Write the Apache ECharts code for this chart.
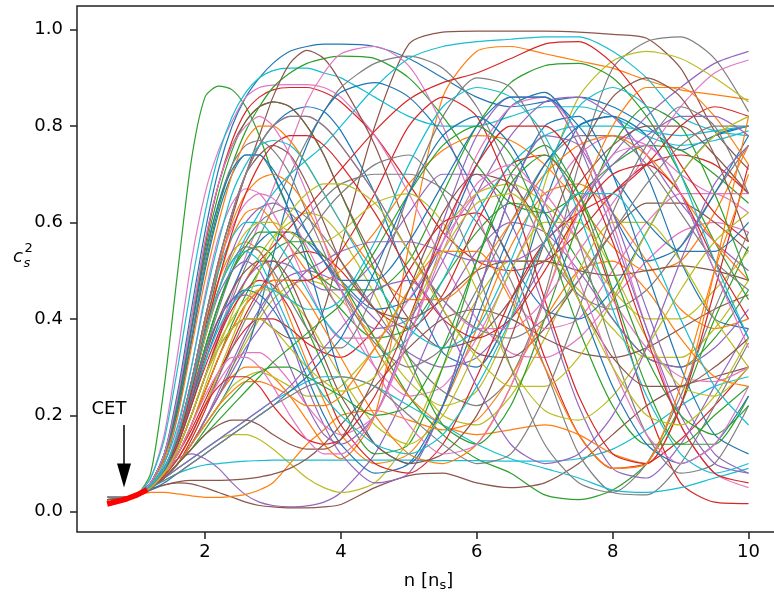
<!DOCTYPE html>
<html><head><meta charset="utf-8">
<script src="https://cdn.jsdelivr.net/npm/echarts@6/dist/echarts.min.js"></script>
<style>html,body{margin:0;padding:0;background:#fff}#c{width:774px;height:595px}</style>
</head><body><div id="c"></div><script>
// x positions (density n in units of n_s)
const xs = [0.56,0.8,1.0,1.2, 1.4,1.6,1.8,2.0, 2.2,2.4,2.6,2.8,3.0, 3.25,3.5,3.75,4.0, 4.5,5.0,5.5,6.0, 6.5,7.0,7.5,8.0, 8.5,9.0,9.5,10.0];

const blue1=[0.02,0.025,0.035,0.06, 0.12,0.25,0.42,0.58, 0.71,0.80,0.86,0.90,0.93, 0.955,0.965,0.97,0.97, 0.965,0.94,0.90,0.86, 0.84,0.85,0.86,0.84, 0.80,0.75,0.78,0.80];
const orange1=[0.02,0.025,0.033,0.05, 0.07,0.10,0.14,0.19, 0.24,0.28,0.30,0.30,0.28, 0.24,0.19,0.14,0.11, 0.20,0.55,0.86,0.955, 0.965,0.95,0.935,0.92, 0.895,0.875,0.865,0.855];
const green1=[0.02,0.025,0.035,0.08, 0.26,0.50,0.73,0.86, 0.883,0.875,0.84,0.78,0.70, 0.62,0.54,0.47,0.42, 0.36,0.38,0.48,0.58, 0.64,0.62,0.52,0.40, 0.32,0.30,0.36,0.46];
const red1=[0.02,0.025,0.035,0.06, 0.11,0.22,0.38,0.55, 0.68,0.77,0.83,0.86,0.875, 0.88,0.88,0.87,0.85, 0.78,0.68,0.58,0.52, 0.50,0.52,0.58,0.66, 0.72,0.74,0.72,0.66];
const purple1=[0.02,0.025,0.033,0.05, 0.07,0.10,0.14,0.19, 0.25,0.31,0.37,0.42,0.46, 0.49,0.50,0.49,0.47, 0.40,0.33,0.30,0.32, 0.40,0.52,0.64,0.74, 0.82,0.88,0.93,0.955];
const brown1=[0.025,0.028,0.035,0.05, 0.08,0.13,0.20,0.28, 0.34,0.38,0.40,0.40,0.38, 0.36,0.36,0.42,0.55, 0.80,0.97,0.995,0.997, 0.997,0.997,0.995,0.99, 0.982,0.92,0.79,0.71];
const pink1=[0.02,0.025,0.035,0.07, 0.16,0.33,0.52,0.66, 0.75,0.81,0.86,0.88,0.885, 0.886,0.886,0.88,0.86, 0.78,0.66,0.52,0.40, 0.33,0.32,0.36,0.44, 0.52,0.58,0.60,0.58];
const gray1=[0.03,0.03,0.035,0.05, 0.08,0.14,0.23,0.33, 0.42,0.50,0.56,0.60,0.62, 0.63,0.61,0.57,0.52, 0.42,0.32,0.25,0.22, 0.28,0.45,0.72,0.92, 0.975,0.985,0.94,0.83];
const olive1=[0.02,0.025,0.033,0.05, 0.07,0.10,0.14,0.19, 0.24,0.30,0.35,0.40,0.44, 0.47,0.48,0.47,0.44, 0.36,0.27,0.22,0.25, 0.40,0.68,0.86,0.935, 0.955,0.94,0.90,0.85];
const cyan1=[0.02,0.025,0.035,0.07, 0.15,0.30,0.47,0.62, 0.74,0.82,0.87,0.90,0.915, 0.92,0.92,0.91,0.90, 0.86,0.82,0.80,0.80, 0.82,0.84,0.84,0.82, 0.78,0.76,0.77,0.79];

const blue2=[0.02,0.025,0.034,0.055, 0.09,0.16,0.27,0.40, 0.52,0.62,0.70,0.76,0.80, 0.83,0.84,0.83,0.79, 0.66,0.48,0.33,0.30, 0.42,0.64,0.80,0.82, 0.70,0.52,0.40,0.38];
const orange2=[0.02,0.025,0.034,0.055, 0.09,0.16,0.27,0.39, 0.48,0.54,0.56,0.54,0.49, 0.40,0.31,0.23,0.16, 0.10,0.12,0.22,0.38, 0.55,0.66,0.68,0.62, 0.52,0.42,0.38,0.40];
const green2=[0.02,0.025,0.034,0.06, 0.11,0.22,0.36,0.51, 0.63,0.72,0.79,0.84,0.88, 0.91,0.93,0.94,0.945, 0.94,0.90,0.82,0.72, 0.64,0.62,0.66,0.72, 0.76,0.75,0.70,0.64];
const red2=[0.02,0.025,0.033,0.05, 0.07,0.10,0.15,0.21, 0.28,0.35,0.41,0.46,0.50, 0.53,0.54,0.53,0.50, 0.42,0.38,0.45,0.60, 0.72,0.74,0.64,0.45, 0.22,0.06,0.02,0.017];
const purple2=[0.02,0.025,0.033,0.05, 0.08,0.11,0.12,0.11, 0.09,0.06,0.035,0.02,0.013, 0.01,0.012,0.02,0.04, 0.12,0.26,0.42,0.54, 0.60,0.58,0.50,0.40, 0.32,0.30,0.34,0.42];
const brown2=[0.025,0.028,0.035,0.055, 0.09,0.16,0.26,0.38, 0.50,0.61,0.70,0.78,0.86, 0.93,0.957,0.94,0.89, 0.76,0.58,0.42,0.33, 0.32,0.38,0.48,0.58, 0.64,0.64,0.60,0.54];
const pink2=[0.02,0.025,0.033,0.05, 0.08,0.13,0.20,0.28, 0.37,0.45,0.53,0.60,0.67, 0.76,0.85,0.91,0.95, 0.965,0.925,0.80,0.62, 0.45,0.38,0.40,0.50, 0.60,0.66,0.66,0.62];
const gray2=[0.03,0.03,0.035,0.05, 0.08,0.13,0.20,0.28, 0.36,0.44,0.51,0.57,0.63, 0.70,0.77,0.83,0.88, 0.93,0.945,0.92,0.84, 0.70,0.55,0.45,0.42, 0.46,0.55,0.66,0.76];
const olive2=[0.02,0.025,0.033,0.05, 0.08,0.12,0.18,0.26, 0.34,0.41,0.48,0.53,0.57, 0.60,0.62,0.61,0.57, 0.45,0.30,0.20,0.18, 0.24,0.36,0.50,0.60, 0.60,0.52,0.40,0.30];
const cyan2=[0.02,0.025,0.034,0.055, 0.09,0.15,0.24,0.34, 0.43,0.51,0.57,0.62,0.66, 0.70,0.73,0.76,0.80, 0.88,0.94,0.965,0.975, 0.98,0.985,0.985,0.955, 0.90,0.82,0.79,0.78];

const blue3=[0.02,0.025,0.034,0.055, 0.085,0.14,0.22,0.31, 0.39,0.46,0.52,0.56,0.58, 0.58,0.56,0.52,0.48, 0.42,0.44,0.56,0.72, 0.84,0.87,0.78,0.62, 0.52,0.55,0.66,0.78];
const orange3=[0.02,0.025,0.034,0.055, 0.09,0.15,0.25,0.37, 0.48,0.57,0.62,0.63,0.60, 0.55,0.50,0.48,0.50, 0.58,0.68,0.75,0.78, 0.77,0.72,0.64,0.55, 0.50,0.52,0.62,0.76];
const green3=[0.02,0.025,0.034,0.05, 0.08,0.12,0.18,0.25, 0.32,0.39,0.45,0.50,0.54, 0.56,0.56,0.53,0.48, 0.36,0.24,0.16,0.11, 0.08,0.035,0.025,0.045, 0.10,0.22,0.40,0.55];
const red3=[0.02,0.025,0.034,0.05, 0.08,0.12,0.17,0.23, 0.29,0.34,0.38,0.40,0.40, 0.38,0.35,0.33,0.32, 0.38,0.50,0.60,0.62, 0.52,0.32,0.16,0.09, 0.10,0.15,0.22,0.30];
const purple3=[0.02,0.025,0.034,0.055, 0.09,0.15,0.25,0.36, 0.46,0.54,0.60,0.63,0.64, 0.62,0.58,0.52,0.46, 0.38,0.40,0.52,0.66, 0.78,0.85,0.86,0.82, 0.74,0.64,0.56,0.50];
const brown3=[0.025,0.028,0.034,0.045, 0.055,0.06,0.058,0.05, 0.04,0.03,0.02,0.013,0.01, 0.008,0.008,0.01,0.015, 0.05,0.075,0.08,0.06, 0.05,0.06,0.10,0.16, 0.22,0.26,0.28,0.30];
const pink3=[0.02,0.025,0.034,0.055, 0.09,0.16,0.27,0.40, 0.51,0.59,0.64,0.66,0.65, 0.61,0.55,0.48,0.41, 0.30,0.24,0.26,0.36, 0.50,0.64,0.74,0.78, 0.76,0.70,0.66,0.66];
const gray3=[0.03,0.03,0.035,0.05, 0.075,0.11,0.16,0.22, 0.28,0.34,0.40,0.45,0.50, 0.56,0.61,0.65,0.68, 0.70,0.70,0.67,0.60, 0.48,0.30,0.12,0.04, 0.035,0.10,0.22,0.35];
const olive3=[0.02,0.025,0.034,0.05, 0.07,0.09,0.11,0.13, 0.15,0.16,0.16,0.15,0.13, 0.10,0.07,0.05,0.04, 0.06,0.15,0.30,0.44, 0.52,0.52,0.46,0.38, 0.32,0.32,0.38,0.48];
const cyan3=[0.02,0.025,0.034,0.05, 0.065,0.08,0.09,0.097, 0.10,0.103,0.105,0.106,0.107, 0.107,0.107,0.107,0.107, 0.107,0.107,0.106,0.106, 0.105,0.105,0.11,0.13, 0.17,0.22,0.26,0.28];

const blue4=[0.02,0.025,0.033,0.05, 0.07,0.10,0.14,0.18, 0.22,0.27,0.33,0.42,0.53, 0.66,0.76,0.83,0.87, 0.89,0.86,0.78,0.66, 0.52,0.42,0.40,0.46, 0.58,0.70,0.78,0.80];
const orange4=[0.02,0.025,0.033,0.04, 0.04,0.037,0.033,0.03, 0.03,0.032,0.036,0.045,0.06, 0.10,0.14,0.17,0.20, 0.21,0.19,0.17,0.19, 0.28,0.40,0.50,0.52, 0.46,0.36,0.28,0.26];
const green4=[0.02,0.025,0.034,0.055, 0.09,0.15,0.24,0.34, 0.43,0.50,0.55,0.58,0.58, 0.56,0.52,0.48,0.46, 0.46,0.52,0.66,0.80, 0.89,0.925,0.93,0.90, 0.82,0.70,0.56,0.44];
const red4=[0.02,0.025,0.034,0.055, 0.09,0.14,0.22,0.30, 0.37,0.43,0.48,0.52,0.55, 0.59,0.63,0.67,0.71, 0.79,0.855,0.89,0.91, 0.94,0.97,0.975,0.93, 0.84,0.72,0.62,0.56];
const purple4=[0.02,0.025,0.034,0.05, 0.08,0.13,0.20,0.28, 0.36,0.43,0.48,0.51,0.52, 0.51,0.48,0.46,0.46, 0.52,0.62,0.70,0.70, 0.60,0.42,0.22,0.09, 0.07,0.14,0.26,0.38];
const brown4=[0.025,0.028,0.035,0.048, 0.056,0.062,0.065,0.065, 0.065,0.066,0.068,0.072,0.078, 0.09,0.11,0.14,0.18, 0.26,0.34,0.40,0.42, 0.40,0.36,0.33,0.32, 0.34,0.38,0.42,0.45];
const pink4=[0.02,0.025,0.034,0.055, 0.09,0.17,0.30,0.45, 0.57,0.64,0.67,0.66,0.62, 0.55,0.47,0.40,0.36, 0.36,0.44,0.56,0.66, 0.70,0.66,0.56,0.44, 0.34,0.28,0.27,0.30];
const gray4=[0.03,0.03,0.035,0.055, 0.10,0.20,0.36,0.52, 0.64,0.72,0.76,0.77,0.75, 0.70,0.62,0.54,0.46, 0.35,0.30,0.34,0.46, 0.60,0.72,0.78,0.78, 0.72,0.62,0.52,0.46];
const olive4=[0.02,0.025,0.033,0.05, 0.07,0.10,0.14,0.18, 0.22,0.26,0.28,0.29,0.28, 0.26,0.24,0.24,0.26, 0.34,0.46,0.58,0.66, 0.68,0.64,0.56,0.46, 0.40,0.40,0.46,0.54];
const cyan4=[0.02,0.025,0.034,0.055, 0.09,0.16,0.27,0.40, 0.50,0.57,0.60,0.60,0.57, 0.52,0.46,0.40,0.36, 0.32,0.36,0.48,0.62, 0.72,0.78,0.80,0.80, 0.79,0.78,0.79,0.80];

const blue5=[0.02,0.025,0.034,0.06, 0.11,0.21,0.35,0.50, 0.62,0.70,0.74,0.74,0.70, 0.62,0.52,0.40,0.28, 0.14,0.10,0.22,0.44, 0.66,0.80,0.82,0.70, 0.50,0.30,0.16,0.12];
const orange5=[0.02,0.025,0.034,0.055, 0.09,0.16,0.27,0.40, 0.51,0.60,0.66,0.69,0.70, 0.68,0.63,0.56,0.48, 0.34,0.24,0.18,0.16, 0.17,0.18,0.16,0.12, 0.10,0.22,0.50,0.82];
const green5=[0.02,0.025,0.034,0.055, 0.09,0.15,0.24,0.34, 0.43,0.50,0.54,0.55,0.53, 0.46,0.38,0.30,0.22, 0.12,0.14,0.30,0.52, 0.70,0.76,0.66,0.46, 0.26,0.14,0.14,0.24];
const red5=[0.02,0.025,0.034,0.05, 0.08,0.12,0.18,0.25, 0.32,0.38,0.43,0.46,0.48, 0.48,0.48,0.50,0.54, 0.66,0.80,0.86,0.82, 0.66,0.44,0.24,0.12, 0.10,0.22,0.46,0.72];
const purple5=[0.02,0.025,0.034,0.055, 0.09,0.15,0.25,0.36, 0.45,0.50,0.52,0.50,0.44, 0.36,0.26,0.18,0.12, 0.06,0.08,0.22,0.44, 0.66,0.78,0.76,0.62, 0.42,0.24,0.12,0.08];
const brown5=[0.025,0.028,0.035,0.055, 0.09,0.16,0.27,0.40, 0.52,0.62,0.70,0.74,0.76, 0.74,0.68,0.60,0.52, 0.42,0.40,0.44,0.50, 0.52,0.52,0.50,0.49, 0.50,0.51,0.50,0.48];
const pink5=[0.02,0.025,0.034,0.05, 0.075,0.11,0.16,0.22, 0.27,0.31,0.33,0.33,0.31, 0.27,0.22,0.18,0.16, 0.20,0.36,0.56,0.74, 0.84,0.86,0.78,0.60, 0.38,0.18,0.08,0.05];
const gray5=[0.03,0.03,0.035,0.055, 0.09,0.16,0.26,0.37, 0.46,0.52,0.55,0.54,0.50, 0.44,0.38,0.34,0.34, 0.46,0.66,0.82,0.90, 0.88,0.76,0.56,0.34, 0.16,0.08,0.10,0.22];
const olive5=[0.02,0.025,0.034,0.055, 0.09,0.15,0.25,0.36, 0.46,0.53,0.58,0.60,0.60, 0.58,0.56,0.56,0.58, 0.64,0.66,0.60,0.46, 0.30,0.21,0.19,0.24, 0.34,0.46,0.56,0.62];
const cyan5=[0.02,0.025,0.034,0.05, 0.07,0.09,0.11,0.13, 0.15,0.17,0.19,0.21,0.23, 0.25,0.27,0.28,0.28, 0.26,0.22,0.18,0.14, 0.11,0.09,0.07,0.045, 0.04,0.05,0.07,0.09];

const blue6=[0.02,0.025,0.034,0.055, 0.09,0.15,0.24,0.33, 0.40,0.44,0.46,0.45,0.42, 0.36,0.28,0.20,0.14, 0.08,0.10,0.22,0.40, 0.58,0.72,0.80,0.82, 0.78,0.66,0.50,0.36];
const orange6=[0.02,0.025,0.034,0.06, 0.11,0.20,0.34,0.48, 0.60,0.70,0.77,0.80,0.80, 0.77,0.72,0.66,0.60, 0.50,0.44,0.44,0.50, 0.60,0.70,0.76,0.78, 0.74,0.66,0.56,0.48];
const green6=[0.02,0.025,0.034,0.06, 0.12,0.23,0.38,0.54, 0.66,0.75,0.81,0.84,0.85, 0.84,0.80,0.74,0.66, 0.50,0.32,0.18,0.14, 0.22,0.40,0.60,0.76, 0.84,0.80,0.66,0.48];
const red6=[0.02,0.025,0.034,0.05, 0.08,0.13,0.20,0.28, 0.36,0.42,0.46,0.48,0.47, 0.42,0.34,0.26,0.18, 0.10,0.08,0.14,0.28, 0.44,0.56,0.62,0.66, 0.72,0.80,0.84,0.82];
const purple6=[0.02,0.025,0.034,0.055, 0.09,0.15,0.24,0.33, 0.40,0.44,0.45,0.43,0.38, 0.30,0.22,0.16,0.14, 0.20,0.38,0.60,0.78, 0.86,0.86,0.76,0.58, 0.38,0.20,0.10,0.08];
const brown6=[0.025,0.028,0.035,0.06, 0.12,0.24,0.40,0.56, 0.68,0.76,0.81,0.84,0.85, 0.84,0.80,0.74,0.66, 0.52,0.40,0.34,0.36, 0.44,0.56,0.68,0.76, 0.80,0.80,0.74,0.66];
const pink6=[0.02,0.025,0.034,0.055, 0.09,0.16,0.27,0.40, 0.52,0.62,0.70,0.76,0.80, 0.82,0.82,0.80,0.76, 0.66,0.54,0.44,0.38, 0.38,0.44,0.54,0.64, 0.74,0.84,0.91,0.937];
const gray6=[0.03,0.03,0.035,0.05, 0.07,0.10,0.14,0.19, 0.24,0.30,0.36,0.41,0.46, 0.52,0.57,0.62,0.66, 0.72,0.74,0.66,0.50, 0.30,0.14,0.06,0.04, 0.10,0.24,0.42,0.58];
const olive6=[0.02,0.025,0.034,0.05, 0.08,0.13,0.20,0.28, 0.35,0.40,0.44,0.46,0.46, 0.44,0.40,0.34,0.28, 0.18,0.14,0.20,0.34, 0.50,0.60,0.60,0.50, 0.36,0.26,0.24,0.30];
const cyan6=[0.02,0.025,0.034,0.055, 0.09,0.15,0.23,0.31, 0.38,0.43,0.46,0.47,0.46, 0.44,0.42,0.42,0.44, 0.56,0.72,0.84,0.88, 0.86,0.78,0.62,0.42, 0.24,0.12,0.08,0.10];

const blue7=[0.02,0.025,0.034,0.06, 0.12,0.23,0.38,0.53, 0.64,0.71,0.74,0.74,0.71, 0.65,0.58,0.52,0.48, 0.48,0.56,0.68,0.80, 0.86,0.86,0.80,0.70, 0.60,0.54,0.54,0.60];
const orange7=[0.02,0.025,0.034,0.05, 0.08,0.12,0.18,0.25, 0.32,0.38,0.43,0.46,0.48, 0.48,0.44,0.38,0.32, 0.20,0.12,0.10,0.14, 0.26,0.44,0.64,0.80, 0.88,0.88,0.82,0.72];
const green7=[0.02,0.025,0.034,0.05, 0.07,0.10,0.13,0.16, 0.19,0.22,0.25,0.28,0.31, 0.34,0.37,0.40,0.43, 0.54,0.66,0.76,0.80, 0.74,0.58,0.38,0.22, 0.14,0.14,0.20,0.26];
const red7=[0.02,0.025,0.034,0.055, 0.09,0.15,0.25,0.37, 0.48,0.58,0.66,0.72,0.76, 0.78,0.78,0.76,0.72, 0.62,0.50,0.40,0.36, 0.40,0.50,0.62,0.70, 0.72,0.66,0.52,0.40];
const purple7=[0.02,0.025,0.034,0.05, 0.07,0.10,0.14,0.19, 0.24,0.29,0.34,0.38,0.42, 0.46,0.50,0.52,0.54, 0.56,0.56,0.54,0.52, 0.52,0.56,0.64,0.72, 0.78,0.82,0.82,0.78];
const brown7=[0.025,0.028,0.035,0.055, 0.09,0.15,0.23,0.32, 0.40,0.46,0.50,0.52,0.52, 0.48,0.40,0.32,0.24, 0.14,0.10,0.12,0.20, 0.36,0.56,0.74,0.86, 0.90,0.86,0.74,0.56];
const pink7=[0.02,0.025,0.034,0.06, 0.12,0.24,0.40,0.56, 0.68,0.76,0.80,0.82,0.80, 0.74,0.66,0.56,0.46, 0.30,0.18,0.12,0.14, 0.26,0.44,0.62,0.74, 0.76,0.66,0.50,0.34];
const gray7=[0.03,0.03,0.035,0.055, 0.09,0.16,0.27,0.40, 0.52,0.62,0.70,0.76,0.80, 0.82,0.82,0.80,0.76, 0.66,0.54,0.44,0.38, 0.36,0.40,0.48,0.58, 0.68,0.76,0.80,0.80];
const olive7=[0.02,0.025,0.034,0.05, 0.075,0.11,0.16,0.22, 0.29,0.36,0.43,0.50,0.56, 0.62,0.66,0.68,0.68, 0.64,0.54,0.42,0.32, 0.26,0.26,0.32,0.44, 0.58,0.70,0.78,0.82];
const cyan7=[0.02,0.025,0.034,0.055, 0.10,0.18,0.30,0.44, 0.56,0.66,0.72,0.76,0.77, 0.76,0.72,0.66,0.60, 0.48,0.38,0.34,0.38, 0.52,0.70,0.84,0.88, 0.84,0.70,0.52,0.36];

const blue8=[0.02,0.025,0.033,0.045, 0.06,0.08,0.10,0.12, 0.14,0.16,0.18,0.20,0.22, 0.25,0.28,0.32,0.36, 0.50,0.66,0.78,0.82, 0.76,0.62,0.44,0.26, 0.14,0.10,0.14,0.24];
const orange8=[0.02,0.025,0.033,0.05, 0.07,0.10,0.14,0.18, 0.22,0.25,0.27,0.27,0.26, 0.24,0.22,0.22,0.24, 0.34,0.46,0.54,0.54, 0.44,0.30,0.16,0.09, 0.10,0.26,0.50,0.70];
const green8=[0.02,0.025,0.033,0.05, 0.07,0.10,0.13,0.17, 0.21,0.24,0.27,0.29,0.30, 0.30,0.28,0.26,0.24, 0.20,0.22,0.34,0.52, 0.68,0.74,0.66,0.50, 0.32,0.20,0.16,0.22];
const red8=[0.02,0.025,0.033,0.05, 0.075,0.11,0.16,0.22, 0.26,0.28,0.28,0.26,0.22, 0.18,0.15,0.14,0.15, 0.24,0.40,0.58,0.72, 0.80,0.80,0.72,0.56, 0.36,0.18,0.08,0.06];
const purple8=[0.02,0.025,0.033,0.05, 0.07,0.09,0.11,0.13, 0.15,0.17,0.19,0.21,0.23, 0.26,0.30,0.34,0.38, 0.46,0.48,0.40,0.26, 0.14,0.10,0.12,0.20, 0.34,0.52,0.68,0.76];
const brown8=[0.025,0.028,0.035,0.05, 0.07,0.10,0.13,0.16, 0.18,0.19,0.19,0.18,0.16, 0.14,0.13,0.13,0.15, 0.28,0.46,0.62,0.70, 0.68,0.58,0.44,0.32, 0.26,0.26,0.30,0.36];
const pink8=[0.02,0.025,0.033,0.05, 0.08,0.12,0.18,0.24, 0.29,0.32,0.32,0.30,0.26, 0.20,0.15,0.12,0.12, 0.20,0.36,0.54,0.68, 0.72,0.64,0.48,0.30, 0.16,0.10,0.14,0.26];
const gray8=[0.03,0.03,0.035,0.05, 0.065,0.08,0.10,0.12, 0.14,0.16,0.18,0.20,0.22, 0.24,0.26,0.27,0.28, 0.26,0.20,0.14,0.10, 0.12,0.24,0.42,0.62, 0.76,0.84,0.80,0.66];
const olive8=[0.02,0.025,0.033,0.05, 0.08,0.13,0.20,0.28, 0.34,0.38,0.40,0.40,0.38, 0.34,0.30,0.27,0.25, 0.28,0.40,0.54,0.64, 0.66,0.58,0.44,0.30, 0.20,0.18,0.24,0.36];
const cyan8=[0.02,0.025,0.034,0.055, 0.09,0.16,0.26,0.37, 0.46,0.52,0.54,0.52,0.46, 0.38,0.30,0.24,0.20, 0.14,0.12,0.16,0.26, 0.40,0.56,0.66,0.66, 0.56,0.40,0.26,0.18];

// CET segment (thick red)
const cetX = [0.56,0.7,0.85,1.0,1.15];
const cetY = [0.016,0.021,0.027,0.035,0.046];

const xTicks = [2,4,6,8,10];
const yTicks = [0.0,0.2,0.4,0.6,0.8,1.0];

const lines = [
  blue1,orange1,green1,red1,purple1,brown1,pink1,gray1,olive1,cyan1,
  blue2,orange2,green2,red2,purple2,brown2,pink2,gray2,olive2,cyan2,
  blue3,orange3,green3,red3,purple3,brown3,pink3,gray3,olive3,cyan3,
  blue4,orange4,green4,red4,purple4,brown4,pink4,gray4,olive4,cyan4,
  blue5,orange5,green5,red5,purple5,brown5,pink5,gray5,olive5,cyan5,
  blue6,orange6,green6,red6,purple6,brown6,pink6,gray6,olive6,cyan6,
  blue7,orange7,green7,red7,purple7,brown7,pink7,gray7,olive7,cyan7,
  blue8,orange8,green8,red8,purple8,brown8,pink8,gray8,olive8,cyan8
];
const palette = ['#1f77b4','#ff7f0e','#2ca02c','#d62728','#9467bd','#8c564b','#e377c2','#7f7f7f','#bcbd22','#17becf'];

const FONT = 'DejaVu Sans';
const chart = echarts.init(document.getElementById('c'), null, {renderer:'canvas'});

const series = lines.map((ys, i) => ({
  type: 'line',
  data: xs.map((x, j) => [x, ys[j]]),
  symbol: 'none',
  smooth: 0.25,
  silent: true,
  animation: false,
  color: palette[i % 10],
  lineStyle: { width: 1.2, color: palette[i % 10] },
  z: 2
}));

series.push({
  type: 'line',
  data: cetX.map((x, j) => [x, cetY[j]]),
  symbol: 'none',
  silent: true,
  animation: false,
  lineStyle: { width: 5.5, color: '#ff0000', cap: 'butt' },
  z: 5,
  markLine: {
    silent: true,
    animation: false,
    symbol: ['none', 'triangle'],
    symbolSize: [14, 24],
    lineStyle: { color: '#000', width: 1.5, type: 'solid' },
    itemStyle: { color: '#000' },
    label: { show: false },
    emphasis: { disabled: true },
    data: [[{ coord: [0.808, 0.18] }, { coord: [0.808, 0.075] }]]
  }
});

chart.setOption({
  animation: false,
  backgroundColor: '#fff',
  grid: { left: 77, top: 6, width: 703, height: 526, outerBoundsMode: 'none', containLabel: false, show: true, borderColor: '#222', borderWidth: 1.5, backgroundColor: 'transparent' },
  xAxis: {
    type: 'value', min: 0.116, max: 10.463,
    axisLine: { show: false, onZero: false },
    splitLine: { show: false },
    axisTick: { show: true, length: 7, lineStyle: { color: '#222', width: 1.5 }, customValues: xTicks },
    axisLabel: { show: true, fontSize: 18, fontFamily: FONT, color: '#000', margin: 11, customValues: xTicks, formatter: v => String(v) },
    name: 'n [n{s|s}]', nameLocation: 'middle', nameGap: 38,
    nameTextStyle: { fontSize: 18, fontFamily: FONT, color: '#000', rich: { s: { fontSize: 13, fontFamily: FONT, color: '#000', padding: [9, 0, 0, 0] } } }
  },
  yAxis: {
    type: 'value', min: -0.042, max: 1.049,
    axisLine: { show: false, onZero: false },
    splitLine: { show: false },
    axisTick: { show: true, length: 7, lineStyle: { color: '#222', width: 1.5 }, customValues: yTicks },
    axisLabel: { show: true, fontSize: 18, fontFamily: FONT, color: '#000', margin: 14, customValues: yTicks, formatter: v => v.toFixed(1) }
  },
  series: series
});

// annotation text and y-axis label
const p = chart.convertToPixel({ gridIndex: 0 }, [0.587, 0.213]);
chart.setOption({
  graphic: [
    { type: 'text', x: p[0], y: p[1], style: { text: 'CET', font: '18px "DejaVu Sans"', fill: '#000', align: 'center', verticalAlign: 'middle' }, z: 10 },
    { type: 'text', x: 13, y: 257, style: { text: 'c', font: 'italic 18px "DejaVu Sans"', fill: '#000', align: 'left', verticalAlign: 'middle' } },
    { type: 'text', x: 23.5, y: 264, style: { text: 's', font: 'italic 13px "DejaVu Sans"', fill: '#000', align: 'left', verticalAlign: 'middle' } },
    { type: 'text', x: 24.5, y: 249, style: { text: '2', font: '13px "DejaVu Sans"', fill: '#000', align: 'left', verticalAlign: 'middle' } }
  ]
});
</script></body></html>
